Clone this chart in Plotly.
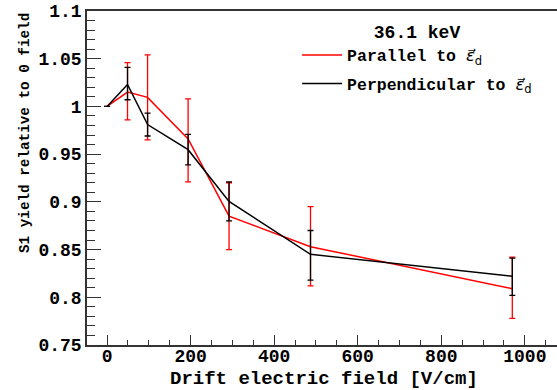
import plotly.graph_objects as go

field = [0, 49, 97, 194, 292, 487, 970]

par_y = [1.0, 1.015, 1.0095, 0.966, 0.885, 0.853, 0.809]
par_hi = [0.0, 0.031, 0.0445, 0.042, 0.035, 0.042, 0.033]
par_lo = [0.0, 0.029, 0.0445, 0.045, 0.035, 0.041, 0.031]

perp_y = [1.0, 1.023, 0.981, 0.9547, 0.9005, 0.845, 0.822]
perp_hi = [0.0, 0.018, 0.012, 0.016, 0.0205, 0.025, 0.019]
perp_lo = [0.0, 0.016, 0.012, 0.016, 0.0205, 0.027, 0.020]

legend_title = "36.1 keV"
y_title = "S1 yield relative to 0 field"
x_title = "Drift electric field [V/cm]"
eps = '<span style="font-family:DejaVu Sans;font-weight:normal"><i>ε\u20d7</i><sub>d</sub></span>'
par_name = "Parallel to " + eps
perp_name = "Perpendicular to " + eps

FONT = "Courier New, Liberation Mono, monospace"

fig = go.Figure()
fig.add_trace(go.Scatter(
    x=field, y=par_y, mode="lines", name=par_name, legendgroup="par",
    line=dict(color="#ff0000", width=1.5),
    error_y=dict(type="data", symmetric=False, array=par_hi, arrayminus=par_lo,
                 color="#ff0000", thickness=1.3, width=3),
))
fig.add_trace(go.Scatter(
    x=field, y=perp_y, mode="lines", name=perp_name, legendgroup="perp",
    line=dict(color="#000000", width=1.5),
    error_y=dict(type="data", symmetric=False, array=perp_hi, arrayminus=perp_lo,
                 color="#000000", thickness=1.3, width=3),
))

axis_common = dict(
    showgrid=False, zeroline=False, showline=True, linecolor="#333333", linewidth=1.5,
    ticks="inside", tickwidth=1.2, tickcolor="#333333",
    tickfont=dict(family=FONT, size=18, color="#000", weight="bold"),
)

fig.update_xaxes(
    range=[-48, 1077], tick0=0, dtick=200, mirror=True, ticklen=10,
    ticklabelstandoff=-6,
    minor=dict(ticks="inside", ticklen=5, dtick=50, tickcolor="#333333", tickwidth=1.2),
    **axis_common,
)
fig.update_yaxes(
    range=[0.75, 1.1], mirror=False, ticklen=14,
    tickvals=[0.75, 0.8, 0.85, 0.9, 0.95, 1.0, 1.05, 1.1],
    ticktext=["0.75", "0.8", "0.85", "0.9", "0.95", "1", "1.05", "1.1"],
    minor=dict(ticks="inside", ticklen=8, dtick=0.01, tick0=0.75, tickcolor="#333333", tickwidth=1.2),
    **axis_common,
)

fig.add_annotation(
    text=y_title, textangle=-90, showarrow=False,
    xref="paper", yref="paper", x=-0.132, y=1.0, xanchor="center", yanchor="top",
    font=dict(family=FONT, size=14.3, color="#000", weight="bold"),
)
fig.add_annotation(
    text=x_title, showarrow=False,
    xref="paper", yref="paper", x=0.504, y=-0.101, xanchor="center", yanchor="middle",
    font=dict(family=FONT, size=19, color="#000", weight="bold"),
)

fig.update_layout(
    width=557, height=390,
    margin=dict(l=87, r=0, t=11, b=45),
    plot_bgcolor="white", paper_bgcolor="white",
    showlegend=True,
    legend=dict(
        x=0.447, y=0.99, xanchor="left", yanchor="top",
        bgcolor="rgba(255,255,255,0)",
        font=dict(family=FONT, size=16.5, color="#000", weight="bold"),
        title=dict(text=legend_title, side="top center",
                   font=dict(family=FONT, size=18, color="#000", weight="bold")),
        itemwidth=40, tracegroupgap=4,
    ),
)

fig.write_html("out.html")
